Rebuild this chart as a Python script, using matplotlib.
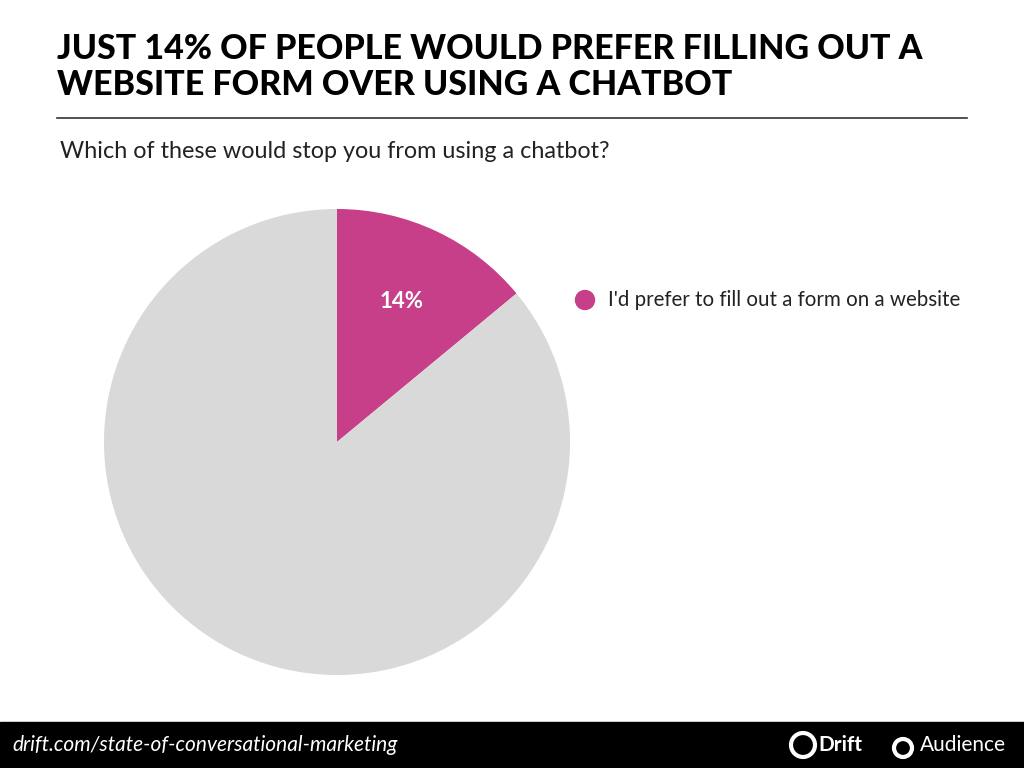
import matplotlib.pyplot as plt
from matplotlib.patches import Rectangle, Circle

# Datos
labels = ["I'd prefer to fill out a form on a website", "Other"]
values = [14, 86]
colors = ['#C63F88', '#D9D9D9']
pct_labels = ['14%', '']

title = 'JUST 14% OF PEOPLE WOULD PREFER FILLING OUT A\nWEBSITE FORM OVER USING A CHATBOT'
subtitle = 'Which of these would stop you from using a chatbot?'
source = 'drift.com/state-of-conversational-marketing'

W, H = 1024, 768
fig = plt.figure(figsize=(W / 100, H / 100), dpi=100)
fig.patch.set_facecolor('white')
px = fig.dpi_scale_trans  # unidades: 100 px


def P(x, y):
    # coordenadas en píxeles (origen arriba a la izquierda) -> pulgadas
    return (x / 100, (H - y) / 100)


# Título y subtítulo
fig.text(57 / W, 1 - 33 / H, title, fontsize=24.5, fontweight='black', family='Lato',
         va='top', ha='left', color='black', linespacing=1.15)
fig.add_artist(plt.Line2D([57 / W, 967 / W], [1 - 118 / H, 1 - 118 / H], color='#333333', lw=1.2))
fig.text(60 / W, 1 - 152 / H, subtitle, fontsize=16.8, family='Lato', va='center', ha='left', color='#222222')

# Gráfico circular
cx, cy, r = 337, 442, 233
ax = fig.add_axes([(cx - r) / W, (H - cy - r) / H, 2 * r / W, 2 * r / H])
wedges, _ = ax.pie(values, colors=colors, startangle=90, counterclock=False, radius=1)
ax.set_xlim(-1, 1)
ax.set_ylim(-1, 1)
ax.set_aspect('equal')
ax.axis('off')

# Etiqueta del porcentaje
ax.text((402 - cx) / r, (cy - 301) / r, pct_labels[0], color='white', fontsize=16,
        fontweight='bold', family='Lato', ha='center', va='center')

# Leyenda
fig.add_artist(Circle(P(585, 300), 0.095, transform=px, color=colors[0]))
fig.text(608 / W, 1 - 300 / H, labels[0], fontsize=14.8, family='Lato', va='center', ha='left', color='#222222')

# Pie de página
fig.add_artist(Rectangle((0, 0), 1, 46 / H, transform=fig.transFigure, color='black'))
fig.text(12 / W, 23 / H, source, fontsize=15, style='italic', family='Lato', color='white',
         va='center', ha='left')
fig.add_artist(Circle(P(803, 745), 0.12, transform=px, facecolor='none', edgecolor='white', lw=3))
fig.text(818 / W, 23 / H, 'Drift', fontsize=15, fontweight='bold', family='Lato', color='white',
         va='center', ha='left')
fig.add_artist(Circle(P(903, 748), 0.09, transform=px, facecolor='none', edgecolor='white', lw=3))
fig.text(920 / W, 23 / H, 'Audience', fontsize=15, family='Lato', color='white',
         va='center', ha='left')

plt.savefig('out.png', dpi=100)
